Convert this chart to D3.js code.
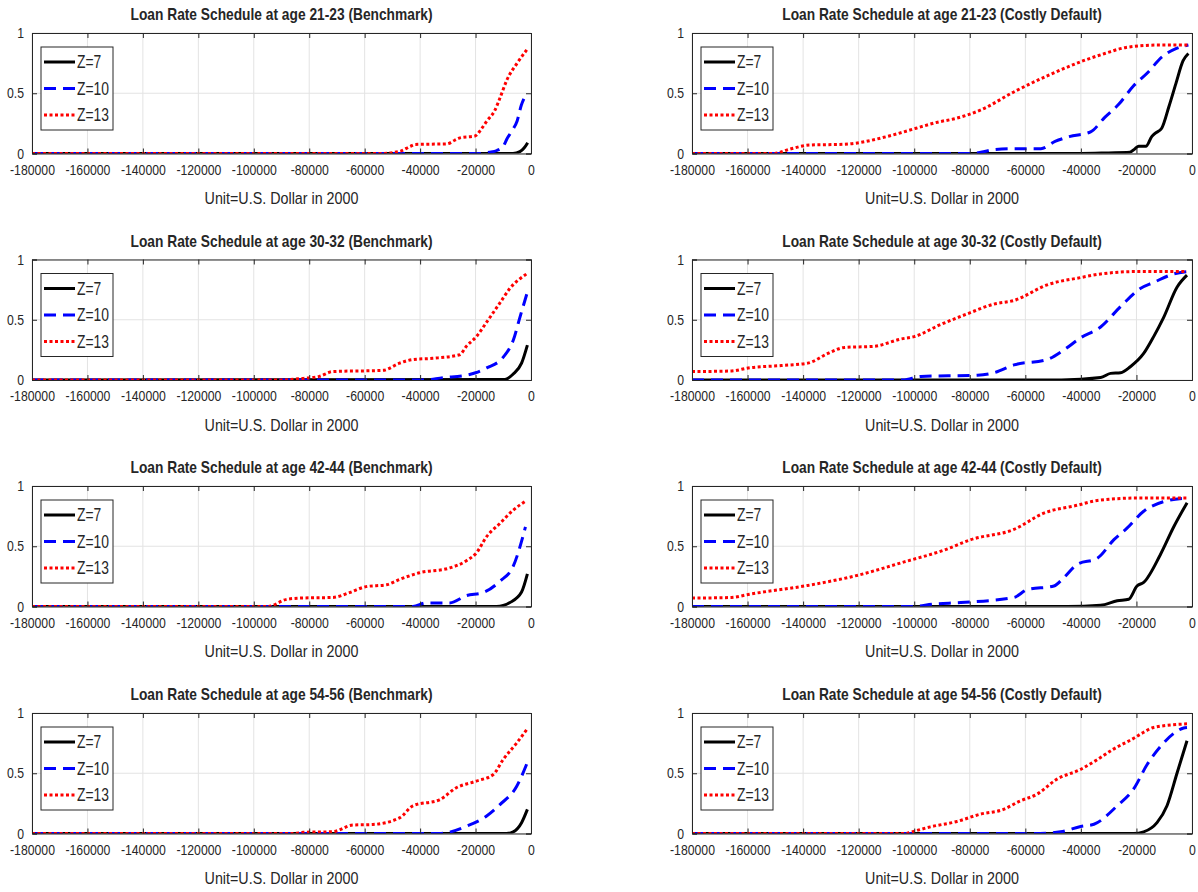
<!DOCTYPE html>
<html><head><meta charset="utf-8">
<script src="https://cdn.jsdelivr.net/npm/d3@7"></script>
<style>
body{margin:0;background:#fff}
svg{display:block}
text{font-family:'Liberation Sans',Arial,Helvetica,sans-serif;fill:#262626}
</style>
</head><body><svg id="c" width="1198" height="892"></svg>
<script>
// ---------- data ----------
const xTicks=[-180000,-160000,-140000,-120000,-100000,-80000,-60000,-40000,-20000,0];
const xTickLabels=["-180000","-160000","-140000","-120000","-100000","-80000","-60000","-40000","-20000","0"];
const yTicks=[0,0.5,1];
const yTickLabels=["0","0.5","1"];
const seriesNames=["Z=7","Z=10","Z=13"];
const xLabel="Unit=U.S. Dollar in 2000";
const titles=[
 "Loan Rate Schedule at age 21-23 (Benchmark)","Loan Rate Schedule at age 21-23 (Costly Default)",
 "Loan Rate Schedule at age 30-32 (Benchmark)","Loan Rate Schedule at age 30-32 (Costly Default)",
 "Loan Rate Schedule at age 42-44 (Benchmark)","Loan Rate Schedule at age 42-44 (Costly Default)",
 "Loan Rate Schedule at age 54-56 (Benchmark)","Loan Rate Schedule at age 54-56 (Costly Default)"];

// age 21-23, benchmark
const b21_z7=[[-180000,0],[-6500,0],[-4000,0.015],[-2500,0.045],[-1200,0.09]];
const b21_z10=[[-180000,0],[-19000,0],[-15000,0.01],[-12300,0.025],[-10000,0.06],[-8700,0.12],[-6500,0.2],[-5000,0.27],[-3500,0.4],[-1500,0.5]];
const b21_z13=[[-180000,0],[-54000,0],[-47000,0.02],[-43500,0.06],[-41800,0.075],[-30300,0.08],[-27500,0.11],[-25600,0.13],[-20200,0.145],[-18000,0.2],[-15900,0.27],[-13000,0.36],[-11200,0.46],[-8700,0.61],[-5000,0.75],[-1200,0.87]];
// age 21-23, costly default
const c21_z7=[[-180000,0],[-40000,0],[-30000,0.005],[-22400,0.01],[-20500,0.04],[-19200,0.06],[-16600,0.06],[-14500,0.14],[-13400,0.165],[-10900,0.21],[-8300,0.39],[-5800,0.58],[-3200,0.77],[-1300,0.83]];
const c21_z10=[[-180000,0],[-80000,0],[-76000,0.01],[-71100,0.033],[-65000,0.04],[-54400,0.04],[-49300,0.1],[-44200,0.14],[-36500,0.18],[-31400,0.3],[-26300,0.41],[-21100,0.56],[-16000,0.67],[-10900,0.8],[-5800,0.87],[-1300,0.9]];
const c21_z13=[[-180000,0],[-150500,0],[-145000,0.035],[-137700,0.07],[-124900,0.077],[-108300,0.15],[-99300,0.21],[-91600,0.26],[-85200,0.29],[-76200,0.36],[-63400,0.52],[-50600,0.66],[-39100,0.77],[-31400,0.83],[-23700,0.88],[-12200,0.9],[-1300,0.9]];
// age 30-32, benchmark
const b30_z7=[[-180000,0],[-9500,0.005],[-6400,0.05],[-3400,0.14],[-1300,0.29]];
const b30_z10=[[-180000,0],[-39000,0],[-31700,0.02],[-23300,0.04],[-20000,0.06],[-16000,0.1],[-10000,0.19],[-6400,0.33],[-4000,0.52],[-1300,0.73]];
const b30_z13=[[-180000,0],[-90000,0],[-84000,0.01],[-76400,0.03],[-71500,0.07],[-53400,0.08],[-47400,0.14],[-42600,0.17],[-35400,0.18],[-25700,0.21],[-23300,0.28],[-19700,0.36],[-16000,0.48],[-11200,0.64],[-7600,0.76],[-1600,0.88]];
// age 30-32, costly default
const c30_z7=[[-180000,0],[-47000,0],[-32900,0.02],[-29300,0.055],[-25700,0.06],[-22200,0.11],[-17400,0.22],[-13800,0.36],[-10200,0.52],[-5400,0.77],[-1800,0.87]];
const c30_z10=[[-180000,0],[-104000,0],[-97600,0.03],[-77200,0.04],[-71300,0.06],[-64100,0.125],[-52100,0.17],[-46100,0.25],[-40100,0.35],[-32900,0.44],[-25700,0.61],[-18600,0.76],[-13800,0.81],[-6600,0.88],[-1800,0.9]];
const c30_z13=[[-180000,0.07],[-165700,0.075],[-159800,0.1],[-147800,0.12],[-138300,0.14],[-131100,0.22],[-125100,0.27],[-114400,0.28],[-104800,0.34],[-100000,0.36],[-91000,0.455],[-80800,0.55],[-71300,0.63],[-64100,0.66],[-52100,0.79],[-40100,0.85],[-32900,0.88],[-19800,0.9],[-1800,0.9]];
// age 42-44, benchmark
const b42_z7=[[-180000,0],[-12400,0],[-7600,0.033],[-3400,0.12],[-1300,0.27]];
const b42_z10=[[-180000,0],[-42600,0],[-37800,0.03],[-29300,0.03],[-23300,0.09],[-17300,0.115],[-11200,0.21],[-6400,0.335],[-2000,0.66]];
const b42_z13=[[-180000,0],[-95000,0],[-88000,0.06],[-83000,0.07],[-71500,0.075],[-65500,0.115],[-59500,0.165],[-52200,0.18],[-47400,0.225],[-40200,0.28],[-29300,0.32],[-23300,0.38],[-19700,0.445],[-16000,0.58],[-11200,0.69],[-6400,0.8],[-1600,0.88]];
// age 42-44, costly default
const c42_z7=[[-180000,0],[-44900,0],[-32900,0.01],[-26900,0.047],[-22800,0.06],[-19800,0.17],[-17400,0.2],[-11400,0.43],[-6600,0.66],[-1800,0.86]];
const c42_z10=[[-180000,0],[-101200,0],[-92800,0.02],[-83200,0.033],[-64100,0.075],[-59300,0.14],[-49700,0.17],[-46100,0.24],[-41300,0.35],[-34100,0.4],[-28100,0.555],[-23400,0.65],[-17400,0.79],[-10200,0.87],[-1800,0.9]];
const c42_z13=[[-180000,0.07],[-165700,0.075],[-159800,0.1],[-138300,0.175],[-120200,0.26],[-103600,0.37],[-89000,0.47],[-79600,0.555],[-64100,0.64],[-53300,0.775],[-41300,0.84],[-34100,0.88],[-19800,0.9],[-1800,0.9]];
// age 54-56, benchmark
const b54_z7=[[-180000,0],[-8800,0],[-6400,0.014],[-3400,0.09],[-1300,0.2]];
const b54_z10=[[-180000,0],[-33000,0],[-23300,0.06],[-16000,0.145],[-11200,0.24],[-5200,0.39],[-1300,0.59]];
const b54_z13=[[-180000,0],[-86000,0],[-82000,0.01],[-71500,0.015],[-64300,0.07],[-57000,0.075],[-47400,0.13],[-42600,0.23],[-33000,0.28],[-26900,0.38],[-19700,0.435],[-13600,0.49],[-10000,0.615],[-5200,0.75],[-1600,0.86]];
// age 54-56, costly default
const c54_z7=[[-180000,0],[-21000,0],[-17400,0.014],[-12600,0.09],[-9000,0.23],[-5400,0.5],[-1800,0.77]];
const c54_z10=[[-180000,0],[-56900,0],[-47300,0.014],[-40100,0.058],[-35300,0.077],[-26900,0.23],[-21000,0.37],[-16200,0.57],[-11400,0.72],[-6600,0.83],[-3000,0.876],[-1800,0.88]];
const c54_z13=[[-180000,0],[-103000,0],[-101400,0.01],[-94200,0.055],[-84600,0.1],[-76300,0.16],[-67900,0.2],[-61900,0.27],[-55900,0.325],[-48700,0.45],[-40300,0.53],[-34300,0.61],[-28300,0.7],[-21000,0.79],[-17400,0.84],[-13800,0.88],[-1800,0.91]];

const panelSeries=[
 [b21_z7,b21_z10,b21_z13],[c21_z7,c21_z10,c21_z13],
 [b30_z7,b30_z10,b30_z13],[c30_z7,c30_z10,c30_z13],
 [b42_z7,b42_z10,b42_z13],[c42_z7,c42_z10,c42_z13],
 [b54_z7,b54_z10,b54_z13],[c54_z7,c54_z10,c54_z13]];

// ---------- layout / style ----------
const colLeft=[32,692], colW=[499,500];
const rowTop=[33,259.5,486,713], H=120.5;
const styles=[
 {color:"#000000",dash:null},
 {color:"#0000ff",dash:"12,7"},
 {color:"#ff0000",dash:"3,2.5"}];
const LW=3;
const axisColor="#262626", gridColor="#e3e3e3";
const FONT="'Liberation Sans',Arial,Helvetica,sans-serif";

const svg=d3.select("#c");
svg.append("rect").attr("width",1198).attr("height",892).attr("fill","#fff");

// horizontal compression factors (reference uses a narrow Helvetica)
function measure(str,size,weight){
  const t=svg.append("text").style("font-family",FONT).style("font-size",size+"px").style("font-weight",weight).text(str);
  const w=t.node().getComputedTextLength(); t.remove(); return w;
}
const TICK_FS=14.5, TITLE_FS=16.5, LABEL_FS=16.5, LEG_FS=17.5;
const sxTick=45/measure("-180000",TICK_FS,"normal");
const sxTitle=302/measure(titles[0],TITLE_FS,"bold");
const sxLabel=154/measure(xLabel,LABEL_FS,"normal");
const sxLeg=32/measure("Z=10",LEG_FS,"normal");

panelSeries.forEach((series,i)=>{
  const r=Math.floor(i/2), c=i%2;
  const W=colW[c];
  const g=svg.append("g").attr("transform",`translate(${colLeft[c]},${rowTop[r]})`);
  const x=d3.scaleLinear().domain([-180000,0]).range([0,W]);
  const y=d3.scaleLinear().domain([0,1]).range([H,0]);

  // grid
  g.append("g").selectAll("line").data(xTicks).join("line")
    .attr("x1",d=>x(d)).attr("x2",d=>x(d)).attr("y1",0).attr("y2",H)
    .attr("stroke",gridColor).attr("stroke-width",1);
  g.append("g").selectAll("line").data(yTicks).join("line")
    .attr("y1",d=>y(d)).attr("y2",d=>y(d)).attr("x1",0).attr("x2",W)
    .attr("stroke",gridColor).attr("stroke-width",1);

  // clip
  const cid="clip"+i;
  g.append("clipPath").attr("id",cid).append("rect").attr("x",0).attr("y",0).attr("width",W).attr("height",H);

  const line=d3.line().x(d=>x(d[0])).y(d=>y(d[1])).curve(d3.curveMonotoneX);
  const lg=g.append("g").attr("clip-path",`url(#${cid})`);
  series.forEach((s,k)=>{
    lg.append("path").datum(s).attr("d",line).attr("fill","none")
      .attr("stroke",styles[k].color).attr("stroke-width",LW)
      .attr("stroke-dasharray",styles[k].dash).attr("stroke-linejoin","round");
  });

  // axes (bottom/left with labels, top/right ticks only)
  const gb=g.append("g").attr("transform",`translate(0,${H})`)
    .call(d3.axisBottom(x).tickValues(xTicks).tickSize(-5).tickPadding(10.8).tickFormat((d,j)=>xTickLabels[j]));
  const gt=g.append("g").call(d3.axisTop(x).tickValues(xTicks).tickSize(-5).tickFormat(""));
  const gl=g.append("g")
    .call(d3.axisLeft(y).tickValues(yTicks).tickSize(-5).tickPadding(8/sxTick).tickFormat((d,j)=>yTickLabels[j]));
  const gr=g.append("g").attr("transform",`translate(${W},0)`)
    .call(d3.axisRight(y).tickValues(yTicks).tickSize(-5).tickFormat(""));
  [gb,gt,gl,gr].forEach(a=>{
    a.select(".domain").attr("stroke",axisColor).attr("stroke-width",1);
    a.selectAll(".tick line").attr("stroke",axisColor).attr("stroke-width",1);
    a.selectAll("text").style("font-size",TICK_FS+"px").style("font-family",FONT)
      .attr("fill",axisColor).attr("transform",`scale(${sxTick},1)`);
  });

  // title
  g.append("text").attr("transform",`translate(${W/2},-13) scale(${sxTitle},1)`).attr("text-anchor","middle")
    .style("font-size",TITLE_FS+"px").style("font-weight","bold").attr("fill","#000").text(titles[i]);
  // x label
  g.append("text").attr("transform",`translate(${W/2},${H+50.5}) scale(${sxLabel},1)`).attr("text-anchor","middle")
    .style("font-size",LABEL_FS+"px").text(xLabel);

  // legend
  const leg=g.append("g").attr("transform","translate(9,14)");
  leg.append("rect").attr("width",72).attr("height",83).attr("fill","#fff").attr("stroke",axisColor).attr("stroke-width",1);
  seriesNames.forEach((n,k)=>{
    const yy=15+k*26.5;
    leg.append("line").attr("x1",3).attr("x2",34).attr("y1",yy).attr("y2",yy)
      .attr("stroke",styles[k].color).attr("stroke-width",LW).attr("stroke-dasharray",styles[k].dash);
    leg.append("text").attr("transform",`translate(36,${yy}) scale(${sxLeg},1)`).attr("dy","0.36em")
      .style("font-size",LEG_FS+"px").attr("fill","#000").text(n);
  });
});
</script>
</body></html>
